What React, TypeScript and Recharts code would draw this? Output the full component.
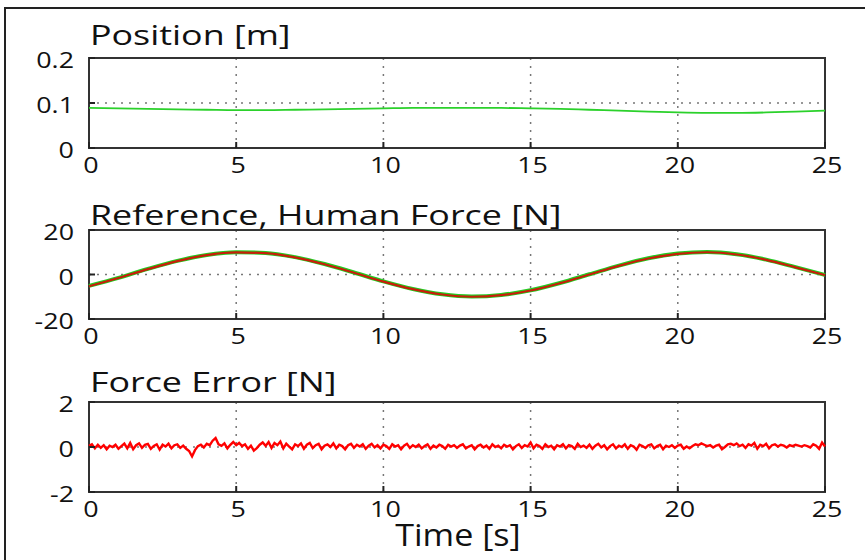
import React from "react";
import {
  LineChart,
  Line,
  XAxis,
  YAxis,
  CartesianGrid,
  ReferenceArea,
} from "recharts";

// time grid shared by the position / force plots (1 s steps)
const timeSec = [
  0, 1, 2, 3, 4, 5, 6, 7, 8, 9, 10, 11, 12, 13, 14, 15, 16, 17, 18, 19, 20, 21,
  22, 23, 24, 25,
];

const position = [
  0.089, 0.088, 0.087, 0.086, 0.085, 0.084, 0.084, 0.085, 0.086, 0.087, 0.088,
  0.089, 0.089, 0.089, 0.089, 0.088, 0.087, 0.085, 0.083, 0.081, 0.079, 0.078,
  0.078, 0.079, 0.081, 0.083,
];

const referenceForce = [
  -5.3, -1.6, 2.4, 6.0, 8.7, 9.9, 9.6, 7.7, 4.6, 0.8, -3.2, -6.6, -9.0, -10.0,
  -9.3, -7.2, -3.9, 0.0, 3.9, 7.2, 9.3, 10.0, 9.0, 6.6, 3.2, -0.3,
];

const humanForce = [
  -5.1, -1.5, 2.5, 6.1, 8.8, 10.0, 9.7, 7.8, 4.7, 0.9, -3.1, -6.5, -8.9, -9.9,
  -9.2, -7.1, -3.8, 0.1, 4.0, 7.3, 9.4, 10.1, 9.1, 6.7, 3.3, -0.2,
];

// force error sampled every 0.1 s
const forceError = [
  0.05, 0.12, -0.06, 0.1, -0.04, 0.08, -0.1, 0.06, 0.0, 0.1,
  -0.08, 0.04, 0.15, -0.06, 0.18, -0.1, 0.08, 0.16, -0.04, 0.1,
  0.14, -0.08, 0.05, 0.12, -0.12, 0.1, 0.02, 0.15, -0.06, 0.08,
  0.12, -0.04, 0.06, -0.08, -0.18, -0.42, -0.14, 0.04, 0.1, -0.02,
  0.14, 0.08, 0.28, 0.4, 0.12, 0.05, 0.16, -0.06, 0.1, 0.22,
  0.08, 0.18, 0.04, 0.12, -0.08, 0.06, -0.16, -0.05, 0.1, 0.2,
  0.05, 0.22, -0.04, 0.18, 0.08, 0.24, -0.06, 0.15, 0.02, -0.1,
  0.12, 0.04, 0.16, -0.08, 0.1, 0.18, -0.05, 0.08, 0.14, -0.1,
  0.06, 0.12, 0.0, 0.16, -0.06, 0.1, 0.04, -0.1, 0.08, 0.14,
  -0.04, 0.1, 0.02, 0.12, -0.08, 0.06, 0.14, -0.02, 0.08, -0.06,
  0.1, 0.04, -0.08, 0.12, 0.02, 0.08, -0.1, 0.06, 0.14, -0.04,
  0.08, 0.0, 0.1, -0.06, 0.04, 0.12, -0.08, 0.06, -0.02, 0.1,
  0.04, -0.08, 0.1, 0.02, 0.08, -0.04, 0.06, 0.12, -0.06, 0.02,
  0.08, -0.1, 0.04, 0.1, -0.02, 0.06, -0.08, 0.12, 0.0, 0.06,
  -0.06, 0.1, 0.02, 0.08, -0.1, 0.04, 0.12, -0.04, 0.08, 0.02,
  0.2, -0.06, 0.1, 0.04, -0.08, 0.12, 0.0, 0.06, -0.1, 0.08,
  0.02, 0.12, -0.06, 0.08, 0.04, -0.08, 0.14, 0.0, 0.06, -0.04,
  0.1, -0.08, 0.06, 0.14, -0.02, 0.08, -0.1, 0.04, 0.12, -0.06,
  0.06, 0.0, 0.12, -0.08, 0.08, 0.02, -0.12, 0.1, 0.04, -0.04,
  0.08, 0.12, -0.06, 0.04, 0.1, -0.1, 0.06, 0.0, 0.08, -0.04,
  0.06, 0.1, -0.08, 0.02, -0.06, 0.04, 0.12, 0.08, 0.16, 0.1,
  0.04, 0.08, -0.02, 0.06, 0.1, -0.1, 0.0, 0.12, 0.14, 0.08,
  0.16, 0.04, 0.1, -0.04, 0.12, 0.06, 0.18, -0.08, 0.1, 0.04,
  0.14, -0.06, 0.08, 0.12, 0.02, 0.1, 0.06, -0.02, 0.08, 0.04,
  0.1, 0.06, 0.02, 0.08, 0.04, -0.02, 0.12, 0.06, -0.08, 0.2,
  0.02,
];

const xTicks = [0, 5, 10, 15, 20, 25];
const gridX = [5, 10, 15, 20];
const posTicks = [0, 0.1, 0.2];
const forceTicks = [-20, 0, 20];
const errTicks = [-2, 0, 2];

const FONT = "'Open Sans', sans-serif";
const STRETCH = 1.28;

const posData = timeSec.map((t, i) => ({ t, pos: position[i] }));
const forceData = timeSec.map((t, i) => ({
  t,
  ref: referenceForce[i],
  human: humanForce[i],
}));
const errData = forceError.map((e, i) => ({ t: i / 10, err: e }));

function BottomTick(props: any) {
  const { x, y, payload } = props;
  return (
    <g>
      <line x1={x} y1={y} x2={x} y2={y - 6} stroke="#222" strokeWidth={2} />
      <g transform={`translate(${x + 2},${y + 25}) scale(${STRETCH},1)`}>
        <text textAnchor="middle" fontSize={21} fontFamily={FONT} fill="#111">
          {payload.value}
        </text>
      </g>
    </g>
  );
}

function TopTick(props: any) {
  const { x, y } = props;
  return <line x1={x} y1={y} x2={x} y2={y + 6} stroke="#222" strokeWidth={2} />;
}

function LeftTick(props: any) {
  const { x, y, payload } = props;
  return (
    <g>
      <line x1={x} y1={y} x2={x + 6} y2={y} stroke="#222" strokeWidth={2} />
      <g transform={`translate(${x - 15},${y + 10}) scale(${STRETCH},1)`}>
        <text textAnchor="end" fontSize={21} fontFamily={FONT} fill="#111">
          {payload.value}
        </text>
      </g>
    </g>
  );
}

function RightTick(props: any) {
  const { x, y } = props;
  return <line x1={x} y1={y} x2={x - 6} y2={y} stroke="#222" strokeWidth={2} />;
}

function Title({ text, top }: { text: string; top: number }) {
  return (
    <div
      style={{
        position: "absolute",
        left: 90,
        top,
        fontFamily: FONT,
        fontSize: 28,
        lineHeight: "28px",
        color: "#111",
        whiteSpace: "nowrap",
        transform: `scaleX(${STRETCH})`,
        transformOrigin: "left top",
      }}
    >
      {text}
    </div>
  );
}

type PanelProps = {
  top: number;
  height: number;
  plotTop: number;
  axisHeight: number;
  domain: [number, number];
  ticks: number[];
  mid: number;
  data: any[];
  children: React.ReactNode;
};

function Panel(p: PanelProps) {
  return (
    <div style={{ position: "absolute", left: 0, top: p.top }}>
      <LineChart
        width={865}
        height={p.height}
        data={p.data}
        margin={{ top: p.plotTop, right: 40, left: 0, bottom: 0 }}
      >
        <CartesianGrid
          stroke="#777"
          strokeWidth={1.5}
          strokeDasharray="2 6"
          horizontalValues={[p.mid]}
          verticalValues={gridX}
        />
        <XAxis
          dataKey="t"
          type="number"
          domain={[0, 25]}
          ticks={xTicks}
          interval={0}
          height={p.axisHeight}
          axisLine={false}
          tickLine={false}
          tickSize={0}
          tickMargin={0}
          tick={<BottomTick />}
        />
        <XAxis
          xAxisId="top"
          orientation="top"
          dataKey="t"
          type="number"
          domain={[0, 25]}
          ticks={gridX}
          interval={0}
          height={0}
          axisLine={false}
          tickLine={false}
          tickSize={0}
          tickMargin={0}
          tick={<TopTick />}
        />
        <YAxis
          type="number"
          domain={p.domain}
          ticks={p.ticks}
          interval={0}
          width={89}
          axisLine={false}
          tickLine={false}
          tickSize={0}
          tickMargin={0}
          tick={<LeftTick />}
        />
        <YAxis
          yAxisId="right"
          orientation="right"
          type="number"
          domain={p.domain}
          ticks={[p.mid]}
          interval={0}
          width={0}
          axisLine={false}
          tickLine={false}
          tickSize={0}
          tickMargin={0}
          tick={<RightTick />}
        />
        {p.children}
        <ReferenceArea
          x1={0}
          x2={25}
          y1={p.domain[0]}
          y2={p.domain[1]}
          fill="none"
          stroke="#333"
          strokeWidth={2}
        />
      </LineChart>
    </div>
  );
}

export default function App() {
  return (
    <div
      style={{
        position: "absolute",
        left: 0,
        top: 0,
        width: 865,
        height: 560,
        background: "#fff",
        overflow: "hidden",
      }}
    >
      {/* outer frame: only top and left edges fall inside the picture */}
      <div
        style={{
          position: "absolute",
          left: 4,
          top: 7,
          width: 870,
          height: 2,
          background: "#222",
        }}
      />
      <div
        style={{
          position: "absolute",
          left: 4,
          top: 7,
          width: 2,
          height: 560,
          background: "#222",
        }}
      />
      <Title text="Position [m]" top={20} />
      <Title text="Reference, Human Force [N]" top={200} />
      <Title text="Force Error [N]" top={367} />

      <Panel
        top={0}
        height={180}
        plotTop={58}
        axisHeight={32}
        domain={[0, 0.2]}
        ticks={posTicks}
        mid={0.1}
        data={posData}
      >
        <Line
          dataKey="pos"
          type="monotone"
          stroke="#2bd12b"
          strokeWidth={1.8}
          dot={false}
          isAnimationActive={false}
        />
      </Panel>

      <Panel
        top={180}
        height={180}
        plotTop={50}
        axisHeight={41}
        domain={[-20, 20]}
        ticks={forceTicks}
        mid={0}
        data={forceData}
      >
        <Line
          dataKey="human"
          type="monotone"
          stroke="#22cc22"
          strokeWidth={4}
          dot={false}
          isAnimationActive={false}
        />
        <Line
          dataKey="ref"
          type="monotone"
          stroke="#c81e0a"
          strokeWidth={2.2}
          dot={false}
          isAnimationActive={false}
        />
      </Panel>

      <Panel
        top={360}
        height={170}
        plotTop={42}
        axisHeight={38}
        domain={[-2, 2]}
        ticks={errTicks}
        mid={0}
        data={errData}
      >
        <Line
          dataKey="err"
          type="linear"
          stroke="#ff0000"
          strokeWidth={2.4}
          dot={false}
          isAnimationActive={false}
        />
      </Panel>

      <div
        style={{
          position: "absolute",
          left: 358,
          top: 521,
          width: 200,
          textAlign: "center",
          fontFamily: FONT,
          fontSize: 31,
          lineHeight: "26px",
          color: "#111",
          transform: "scaleX(1.1)",
          transformOrigin: "center top",
        }}
      >
        Time [s]
      </div>
    </div>
  );
}
